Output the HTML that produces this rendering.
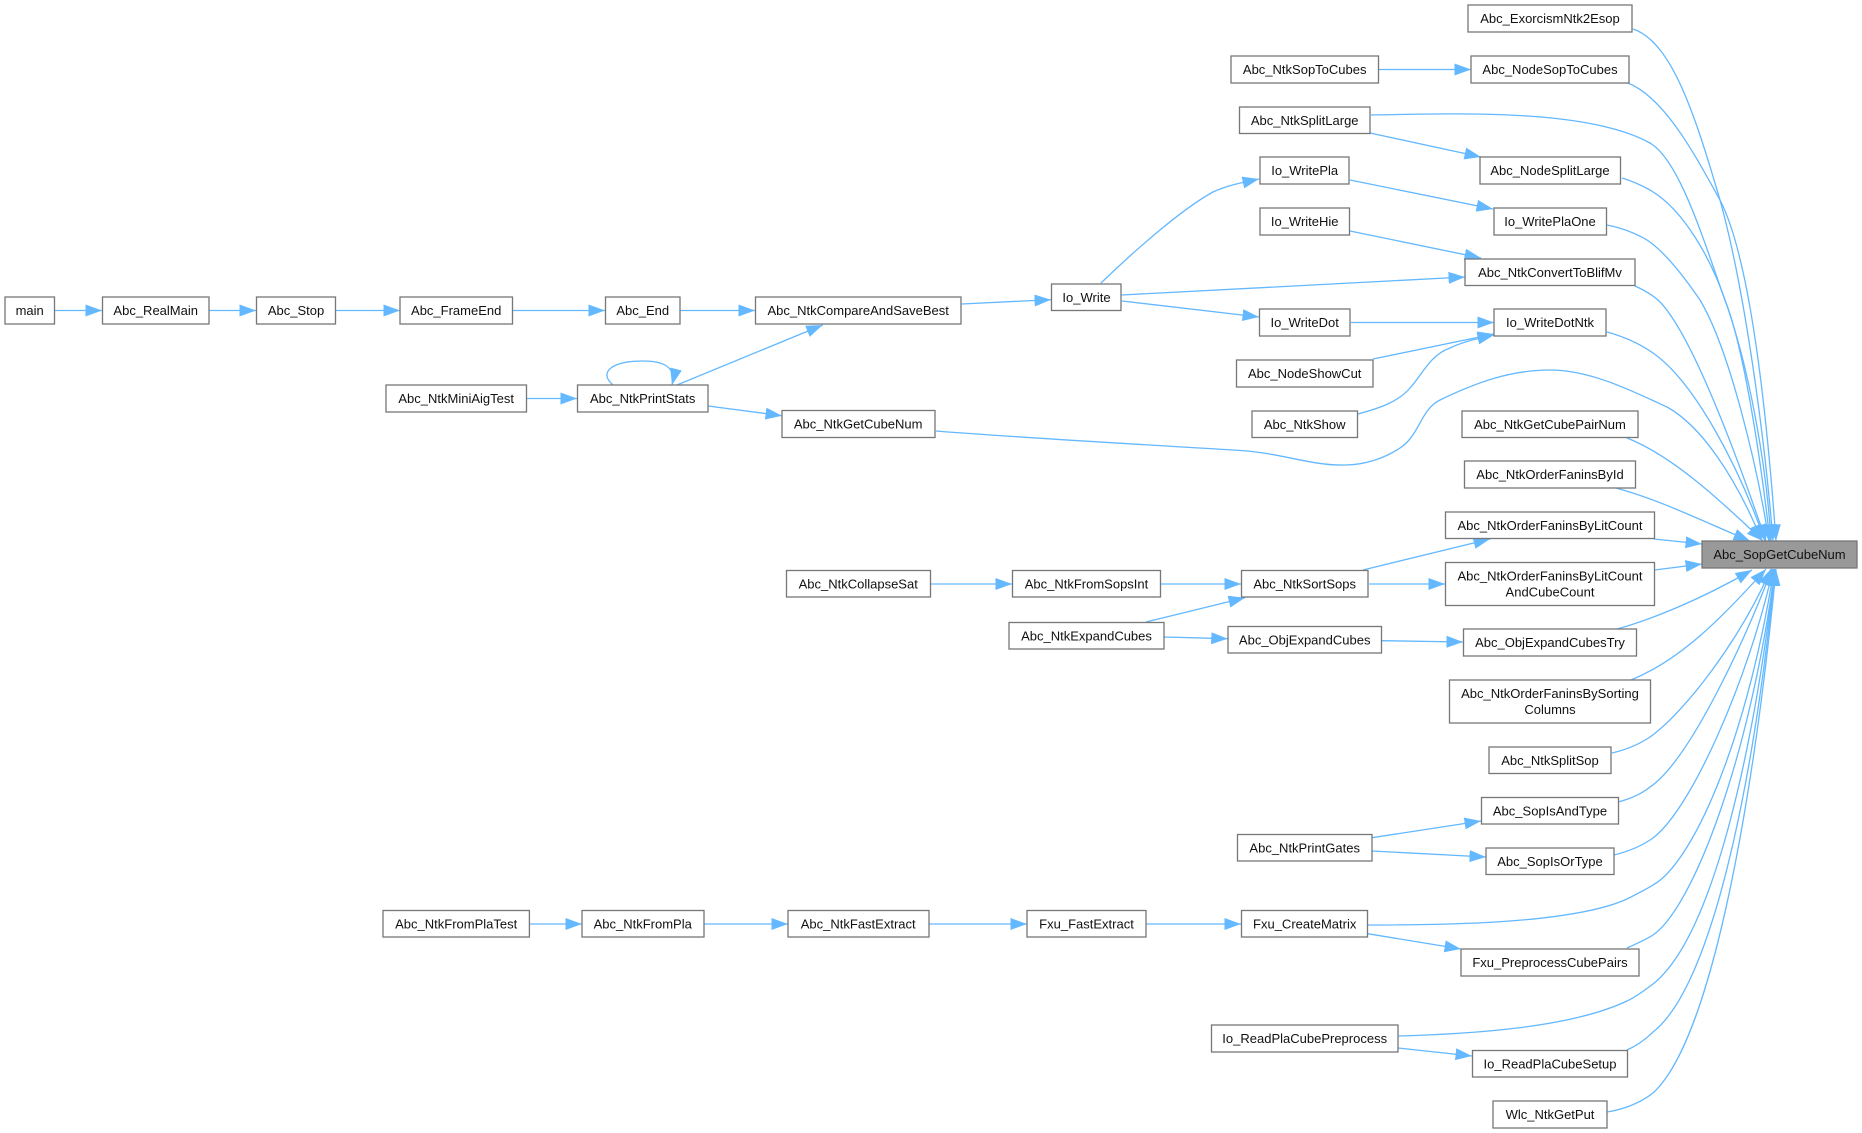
<!DOCTYPE html>
<html><head><meta charset="utf-8"><style>
html,body{margin:0;padding:0;background:#fff}
svg{display:block}
rect{fill:#fff;stroke:#777;stroke-width:1.3}
rect.t{fill:#999}
text{font-family:"Liberation Sans",Arial,sans-serif;font-size:13px;fill:#111;text-anchor:middle}
path.e{fill:none;stroke:#63B8FF;stroke-width:1.3;marker-end:url(#a)}
</style></head><body>
<svg width="1862" height="1133" viewBox="0 0 1862 1133" xmlns="http://www.w3.org/2000/svg">
<defs><marker id="a" markerUnits="userSpaceOnUse" markerWidth="19" markerHeight="14" refX="16.5" refY="6" orient="auto"><path d="M0,0L16.500,6L0,12z" fill="#63B8FF"/></marker></defs>
<g>
<path class="e" d="M1633,29C1672,42 1695,115 1720,200C1745,290 1765,440 1773,541"/>
<path class="e" d="M1628,83C1665,98 1695,155 1720,200C1752,262 1768,430 1776,541"/>
<path class="e" d="M1371,115C1470,113 1590,110 1650,143C1680,160 1705,245 1725,300C1750,370 1767,470 1771,541"/>
<path class="e" d="M1622,178C1632,181 1641,185 1650,190C1685,210 1712,262 1725,300C1745,350 1762,470 1770,541"/>
<path class="e" d="M1607,225C1622,228 1635,233 1647,240C1665,252 1685,278 1700,300C1730,350 1758,470 1769,541"/>
<path class="e" d="M1635,286C1644,290 1651,294 1658,300C1690,330 1735,450 1766,541"/>
<path class="e" d="M1607,332C1625,337 1638,343 1650,351C1695,380 1740,470 1765,541"/>
<path class="e" d="M936,431C1010,437 1150,445 1233,450C1280,452 1310,466 1345,465C1365,465 1385,458 1400,448C1420,435 1420,410 1440,400C1475,383 1510,370 1550,370C1590,370 1630,390 1667,407C1700,425 1735,475 1762,541"/>
<path class="e" d="M1627,438C1670,455 1715,495 1763,541"/>
<path class="e" d="M1616,488C1660,500 1700,520 1750,541"/>
<path class="e" d="M1654,539L1702,544"/>
<path class="e" d="M1654.5,570L1702,564"/>
<path class="e" d="M1617,629C1650,620 1700,600 1752,570"/>
<path class="e" d="M1631,680C1680,660 1720,620 1766,569"/>
<path class="e" d="M1612,753C1625,750 1638,745 1650,737C1685,712 1740,640 1771,569"/>
<path class="e" d="M1618,802C1630,799 1640,795 1650,787C1690,760 1745,640 1772,569"/>
<path class="e" d="M1614,855C1626,852 1638,848 1650,840C1690,815 1750,675 1773,569"/>
<path class="e" d="M1368,925C1430,925 1570,925 1627,899C1635,895 1645,890 1653,885C1690,865 1745,750 1774,569"/>
<path class="e" d="M1627,948C1636,944 1645,940 1653,935C1690,910 1748,770 1775,569"/>
<path class="e" d="M1398,1036C1470,1034 1570,1028 1627,1001C1636,997 1645,990 1653,984C1715,935 1755,740 1775,569"/>
<path class="e" d="M1627,1050C1636,1046 1645,1040 1653,1032C1720,980 1760,730 1775,569"/>
<path class="e" d="M1607,1112C1625,1109 1640,1103 1653,1093C1722,1030 1762,720 1776,569"/>

<path class="e" d="M1379,69.5L1471,69.5"/>
<path class="e" d="M1370,133L1481,157"/>
<path class="e" d="M1350,180L1493,209"/>
<path class="e" d="M1350,231L1481,258"/>
<path class="e" d="M1121.7,295L1465,277"/>
<path class="e" d="M1101,283C1130,255 1180,210 1213,192C1228,185 1245,182 1259,179"/>
<path class="e" d="M1122,301L1259,317"/>
<path class="e" d="M1351,322.5L1494,322.5"/>
<path class="e" d="M1373,359L1494,334"/>
<path class="e" d="M1358,414C1380,408 1398,402 1410,388C1422,375 1430,355 1450,348C1465,341 1480,338 1494,335"/>
<path class="e" d="M55,310.5L102,310.5"/>
<path class="e" d="M209,310.5L256,310.5"/>
<path class="e" d="M336,310.5L400,310.5"/>
<path class="e" d="M513,310.5L605,310.5"/>
<path class="e" d="M680.5,310.5L755,310.5"/>
<path class="e" d="M961.7,304L1051,299.7"/>
<path class="e" d="M677,385L822.7,325"/>
<path class="e" d="M613,385C598,372 612,361 643,361C660,361 677,365 672,385"/>
<path class="e" d="M527,398.5L577,398.5"/>
<path class="e" d="M708,406L782,415.7"/>
<path class="e" d="M931,584L1012,584"/>
<path class="e" d="M1161,584L1241,584"/>
<path class="e" d="M1146,622L1245,597.7"/>
<path class="e" d="M1164,637L1227.7,638.7"/>
<path class="e" d="M1363,570L1490,539"/>
<path class="e" d="M1369,584L1445,584"/>
<path class="e" d="M1381.7,640.7L1463,642"/>
<path class="e" d="M1372,837.7L1481,821"/>
<path class="e" d="M1372,851L1486,857"/>
<path class="e" d="M529.4,924L582,924"/>
<path class="e" d="M704,924L788,924"/>
<path class="e" d="M929,924L1027,924"/>
<path class="e" d="M1146,924L1241,924"/>
<path class="e" d="M1367.7,933.7L1461,949"/>
<path class="e" d="M1398,1048L1472,1056"/>
</g>
<g>
<rect class="t" x="1702" y="541" width="155" height="27"/><text x="1779.5" y="559">Abc_SopGetCubeNum</text>
<rect x="1468" y="5" width="164" height="27"/><text x="1550" y="23">Abc_ExorcismNtk2Esop</text>
<rect x="1471" y="56" width="158" height="27"/><text x="1550" y="74">Abc_NodeSopToCubes</text>
<rect x="1480" y="157" width="140.500" height="27"/><text x="1550" y="175">Abc_NodeSplitLarge</text>
<rect x="1494" y="208" width="112.500" height="27"/><text x="1550" y="226">Io_WritePlaOne</text>
<rect x="1465" y="259" width="170" height="26.500"/><text x="1550" y="277">Abc_NtkConvertToBlifMv</text>
<rect x="1494" y="309" width="112" height="27"/><text x="1550" y="327">Io_WriteDotNtk</text>
<rect x="1462" y="411" width="176" height="26.500"/><text x="1550" y="429">Abc_NtkGetCubePairNum</text>
<rect x="1464.500" y="461" width="171" height="27"/><text x="1550" y="479">Abc_NtkOrderFaninsById</text>
<rect x="1445.500" y="512" width="209" height="26.500"/><text x="1550" y="530">Abc_NtkOrderFaninsByLitCount</text>
<rect x="1445.500" y="562.500" width="209" height="43"/><text x="1550" y="580.500">Abc_NtkOrderFaninsByLitCount</text><text x="1550" y="596.500">AndCubeCount</text>
<rect x="1463.500" y="629" width="173" height="27"/><text x="1550" y="647">Abc_ObjExpandCubesTry</text>
<rect x="1449.500" y="680" width="201" height="43"/><text x="1550" y="698">Abc_NtkOrderFaninsBySorting</text><text x="1550" y="714">Columns</text>
<rect x="1489" y="747" width="122" height="26.500"/><text x="1550" y="765">Abc_NtkSplitSop</text>
<rect x="1481.500" y="797.500" width="137" height="26.500"/><text x="1550" y="815.500">Abc_SopIsAndType</text>
<rect x="1486" y="848" width="128" height="26.500"/><text x="1550" y="866">Abc_SopIsOrType</text>
<rect x="1461" y="949" width="178" height="27"/><text x="1550" y="967">Fxu_PreprocessCubePairs</text>
<rect x="1472.500" y="1050.500" width="155" height="26.500"/><text x="1550" y="1068.500">Io_ReadPlaCubeSetup</text>
<rect x="1493" y="1101" width="114" height="27"/><text x="1550" y="1119">Wlc_NtkGetPut</text>

<rect x="1231" y="56" width="147.500" height="27"/><text x="1304.700" y="74">Abc_NtkSopToCubes</text>
<rect x="1239.500" y="107" width="130.500" height="26.500"/><text x="1304.700" y="125">Abc_NtkSplitLarge</text>
<rect x="1260" y="157" width="89" height="27"/><text x="1304.700" y="175">Io_WritePla</text>
<rect x="1260" y="208" width="89.500" height="27"/><text x="1304.700" y="226">Io_WriteHie</text>
<rect x="1051.500" y="284" width="69.500" height="26.500"/><text x="1086.500" y="302">Io_Write</text>
<rect x="1259.500" y="309" width="90.500" height="27"/><text x="1304.700" y="327">Io_WriteDot</text>
<rect x="1236.500" y="360" width="136.500" height="27"/><text x="1304.700" y="378">Abc_NodeShowCut</text>
<rect x="1252" y="411" width="105.500" height="26.500"/><text x="1304.700" y="429">Abc_NtkShow</text>
<rect x="1012.500" y="570.500" width="148" height="26.500"/><text x="1086.500" y="588.500">Abc_NtkFromSopsInt</text>
<rect x="1241.500" y="570.500" width="126.500" height="26.500"/><text x="1304.700" y="588.500">Abc_NtkSortSops</text>
<rect x="1009" y="622.500" width="155" height="26.500"/><text x="1086.500" y="640.500">Abc_NtkExpandCubes</text>
<rect x="1228" y="626.500" width="153.500" height="26.500"/><text x="1304.700" y="644.500">Abc_ObjExpandCubes</text>
<rect x="1237.500" y="834.500" width="134.500" height="26.500"/><text x="1304.700" y="852.500">Abc_NtkPrintGates</text>
<rect x="1027" y="910.500" width="119" height="26.500"/><text x="1086.500" y="928.500">Fxu_FastExtract</text>
<rect x="1241.500" y="910.500" width="126" height="26.500"/><text x="1304.700" y="928.500">Fxu_CreateMatrix</text>
<rect x="1211.500" y="1025" width="186.500" height="27"/><text x="1304.700" y="1043">Io_ReadPlaCubePreprocess</text>

<rect x="5" y="297" width="49.500" height="27"/><text x="29.700" y="315">main</text>
<rect x="102.500" y="297" width="106.500" height="27"/><text x="155.700" y="315">Abc_RealMain</text>
<rect x="256.500" y="297" width="79" height="27"/><text x="296" y="315">Abc_Stop</text>
<rect x="400" y="297" width="112.500" height="27"/><text x="456.200" y="315">Abc_FrameEnd</text>
<rect x="386" y="385" width="140.500" height="27"/><text x="456.200" y="403">Abc_NtkMiniAigTest</text>
<rect x="605.500" y="297" width="74.500" height="27"/><text x="642.700" y="315">Abc_End</text>
<rect x="755.500" y="297" width="205.500" height="27"/><text x="858.200" y="315">Abc_NtkCompareAndSaveBest</text>
<rect x="577.500" y="385" width="130.500" height="27"/><text x="642.700" y="403">Abc_NtkPrintStats</text>
<rect x="782" y="410.500" width="153" height="27"/><text x="858.200" y="428.500">Abc_NtkGetCubeNum</text>
<rect x="383" y="910.500" width="146.400" height="26.500"/><text x="456.200" y="928.500">Abc_NtkFromPlaTest</text>
<rect x="582" y="910.500" width="122" height="26.500"/><text x="642.700" y="928.500">Abc_NtkFromPla</text>
<rect x="788" y="910.500" width="141" height="26.500"/><text x="858.200" y="928.500">Abc_NtkFastExtract</text>
<rect x="786.500" y="570.500" width="144" height="26.500"/><text x="858.200" y="588.500">Abc_NtkCollapseSat</text>
</g>
</svg>
</body></html>
